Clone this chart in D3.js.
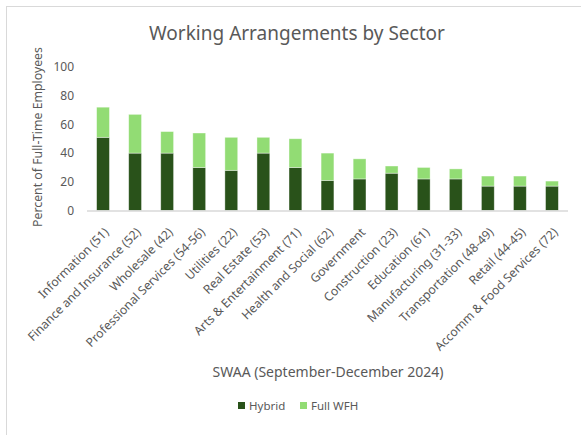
<!DOCTYPE html>
<html>
<head>
<meta charset="utf-8">
<script src="https://cdn.jsdelivr.net/npm/d3@7"></script>
<style>
  body { margin: 0; background: #fff; }
  text { font-family: "Noto Sans", "Open Sans", sans-serif; fill: #595959; }
</style>
</head>
<body>
<svg id="chart" width="581" height="435"></svg>
<script>
// data
const sectors = ["Information (51)", "Finance and Insurance (52)", "Wholesale (42)",
  "Professional Services (54-56)", "Utilities (22)", "Real Estate (53)",
  "Arts & Entertainment (71)", "Health and Social (62)", "Government",
  "Construction (23)", "Education (61)", "Manufacturing (31-33)",
  "Transportation (48-49)", "Retail (44-45)", "Accomm & Food Services (72)"];
const hybrid  = [51, 40, 40, 30, 28, 40, 30, 21, 22, 26, 22, 22, 17, 17, 17];
const fullWFH = [21, 27, 15, 24, 23, 11, 20, 19, 14, 5, 8, 7, 7, 7, 3.5];
const yTicks = [0, 20, 40, 60, 80, 100];
const seriesNames = ["Hybrid", "Full WFH"];
const colors = ["#29521a", "#92dc74"];

const svg = d3.select("#chart");

// outer frame like the excel chart area
svg.append("rect")
  .attr("x", 6.5).attr("y", 6.5)
  .attr("width", 620).attr("height", 460)
  .attr("fill", "none")
  .attr("stroke", "#d9d9d9");

const x = d3.scaleBand()
  .domain(sectors)
  .range([87, 568])
  .paddingInner(0.6)
  .paddingOuter(0.3);

const y = d3.scaleLinear()
  .domain([0, 100])
  .range([210.5, 67]);

// title
svg.append("text")
  .attr("x", 297).attr("y", 40)
  .attr("text-anchor", "middle")
  .style("font-size", "19px")
  .text("Working Arrangements by Sector");

// y ticks
svg.append("g").selectAll("text")
  .data(yTicks)
  .enter()
  .append("text")
  .attr("x", 74)
  .attr("y", d => y(d))
  .attr("dy", "0.35em")
  .attr("text-anchor", "end")
  .style("font-size", "12px")
  .text(d => d);

// y title
svg.append("text")
  .attr("transform", "translate(42,137) rotate(-90)")
  .attr("text-anchor", "middle")
  .style("font-size", "12.3px")
  .text("Percent of Full-Time Employees");

// stacked bars
const rows = sectors.map((s, i) => ({ sector: s, Hybrid: hybrid[i], "Full WFH": fullWFH[i] }));
const stacked = d3.stack().keys(seriesNames)(rows);

svg.append("g").selectAll("g")
  .data(stacked)
  .enter()
  .append("g")
  .attr("fill", (d, i) => colors[i])
  .selectAll("rect")
  .data(d => d)
  .enter()
  .append("rect")
  .attr("x", d => x(d.data.sector))
  .attr("y", d => y(d[1]))
  .attr("width", x.bandwidth())
  .attr("height", d => y(d[0]) - y(d[1]))
  .attr("stroke", "#ffffff")
  .attr("stroke-opacity", 0.5)
  .attr("stroke-width", 0.75);

// baseline
svg.append("line")
  .attr("x1", 87).attr("x2", 568)
  .attr("y1", y(0) + 0.5).attr("y2", y(0) + 0.5)
  .attr("stroke", "#d9d9d9")
  .attr("stroke-width", 1.5);

// x labels, rotated
svg.append("g").selectAll("text")
  .data(sectors)
  .enter()
  .append("text")
  .attr("transform", d => `translate(${x(d) + x.bandwidth() / 2 + 3.5},${230}) rotate(-45)`)
  .attr("text-anchor", "end")
  .attr("dy", "0.35em")
  .style("font-size", "12.2px")
  .text(d => d);

// x title
svg.append("text")
  .attr("x", 328).attr("y", 377)
  .attr("text-anchor", "middle")
  .style("font-size", "14px")
  .text("SWAA (September-December 2024)");

// legend
const legend = svg.append("g").selectAll("g")
  .data(seriesNames)
  .enter()
  .append("g")
  .attr("transform", (d, i) => `translate(${i === 0 ? 238 : 300},402)`);

legend.append("rect")
  .attr("width", 7).attr("height", 7)
  .attr("fill", (d, i) => colors[i]);

legend.append("text")
  .attr("x", 11).attr("y", 4)
  .attr("dy", "0.35em")
  .style("font-size", "11.5px")
  .text(d => d);
</script>
</body>
</html>
